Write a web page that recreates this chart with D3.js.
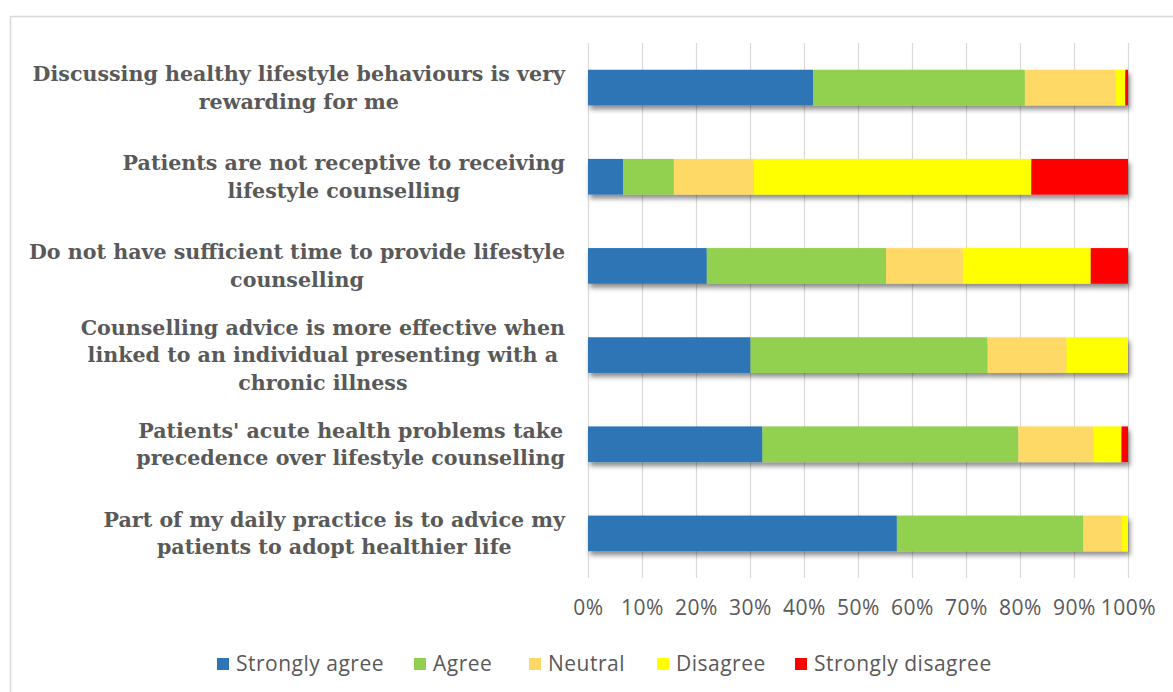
<!DOCTYPE html>
<html><head><meta charset="utf-8">
<script src="https://d3js.org/d3.v7.min.js"></script>
<style>body{margin:0;background:#fff}</style>
</head><body>
<svg id="c" width="1173" height="692"></svg>
<script>
const categories = [
  ["Discussing healthy lifestyle behaviours is very", "rewarding for me"],
  ["Patients are not receptive to receiving", "lifestyle counselling"],
  ["Do not have sufficient time to provide lifestyle", "counselling"],
  ["Counselling advice is more effective when", "linked to an individual presenting with a", "chronic illness"],
  ["Patients' acute health problems take", "precedence over lifestyle counselling"],
  ["Part of my daily practice is to advice my", "patients to adopt healthier life"]
];
const seriesNames = ["Strongly agree", "Agree", "Neutral", "Disagree", "Strongly disagree"];
const stronglyAgree    = [41.7,  6.5, 22.0, 30.1, 32.3, 57.2];
const agree            = [39.2,  9.4, 33.2, 43.9, 47.4, 34.5];
const neutral          = [16.8, 14.8, 14.2, 14.6, 13.9,  7.2];
const disagree         = [ 1.8, 51.4, 23.7, 11.4,  5.2,  1.1];
const stronglyDisagree = [ 0.5, 17.9,  6.9,  0.0,  1.2,  0.0];
const tickLabels = ["0%","10%","20%","30%","40%","50%","60%","70%","80%","90%","100%"];
const colors = ["#2E75B6", "#92D050", "#FFD966", "#FFFF00", "#FF0000"];

const seriesValues = [stronglyAgree, agree, neutral, disagree, stronglyDisagree];
const rows = categories.map((c, i) => {
  const r = {idx: i};
  seriesNames.forEach((s, j) => r[s] = seriesValues[j][i]);
  return r;
});

const svg = d3.select("#c");
const defs = svg.append("defs");
const f = defs.append("filter").attr("id","sh").attr("x","-5%").attr("y","-20%").attr("width","110%").attr("height","160%");
f.append("feDropShadow").attr("dx",2).attr("dy",4).attr("stdDeviation",2.5).attr("flood-color","#000").attr("flood-opacity",0.45);

// frame
svg.append("rect").attr("x",10.5).attr("y",16.5).attr("width",1200).attr("height",700)
  .attr("fill","none").attr("stroke","#d9d9d9").attr("stroke-width",1.5);

const pLeft = 588, pRight = 1128, pTop = 43, pBottom = 578;
const x = d3.scaleLinear().domain([0,100]).range([pLeft,pRight]);
const y = d3.scaleBand().domain(d3.range(categories.length)).range([pTop,pBottom]).paddingInner(0.6).paddingOuter(0.3);

// gridlines
svg.append("g").selectAll("line").data(d3.range(0,101,10)).join("line")
  .attr("x1", d => x(d)+0.5).attr("x2", d => x(d)+0.5)
  .attr("y1", pTop).attr("y2", pBottom)
  .attr("stroke", "#d9d9d9").attr("stroke-width", 1.2);

// stacked bars
const stack = d3.stack().keys(seriesNames)(rows);
const gBars = svg.append("g").attr("filter","url(#sh)");
stack.forEach((layer, j) => {
  gBars.append("g").attr("fill", colors[j]).selectAll("rect").data(layer).join("rect")
    .attr("x", d => x(d[0])).attr("width", d => x(d[1]) - x(d[0]))
    .attr("y", (d,i) => y(i)).attr("height", y.bandwidth());
});

// x axis labels
const xAxis = d3.axisBottom(x).tickValues(d3.range(0,101,10)).tickFormat((d,i) => tickLabels[i]).tickSize(0).tickPadding(0);
const ga = svg.append("g").attr("transform", `translate(0,${pBottom+22})`).call(xAxis);
ga.select(".domain").remove();
ga.selectAll("text").attr("font-family","'Open Sans', sans-serif").attr("font-size",21).attr("letter-spacing","0.5px").attr("fill","#595959").attr("dy","0.71em");

// category labels
const gl = svg.append("g").attr("font-family","'DejaVu Serif', serif").attr("font-weight","bold")
  .attr("font-size",20.6).attr("fill","#595959");
const labelRight = 565, lh = 27.5;
categories.forEach((lines, i) => {
  const cy = y(i) + y.bandwidth()/2;
  const t = gl.append("text").attr("text-anchor","middle");
  const n = lines.length;
  lines.forEach((ln, k) => {
    t.append("tspan").attr("y", cy + (k - (n-1)/2)*lh).attr("dy","0.35em").text(ln);
  });
  let maxW = 0;
  t.selectAll("tspan").each(function(){ maxW = Math.max(maxW, this.getComputedTextLength()); });
  const cx = labelRight - maxW/2;
  t.selectAll("tspan").attr("x", cx);
});

// legend
const legendX = [217, 414, 529, 657, 795];
const lg = svg.append("g");
seriesNames.forEach((s, j) => {
  const g = lg.append("g").attr("transform", `translate(${legendX[j]},664)`);
  g.append("rect").attr("x",0).attr("y",-6).attr("width",12).attr("height",12).attr("fill",colors[j]);
  g.append("text").attr("x",19).attr("y",0).attr("dy","0.35em")
    .attr("font-family","'Open Sans', sans-serif").attr("font-size",21).attr("letter-spacing","0.5px").attr("fill","#595959").text(s);
});
</script>
</body></html>
